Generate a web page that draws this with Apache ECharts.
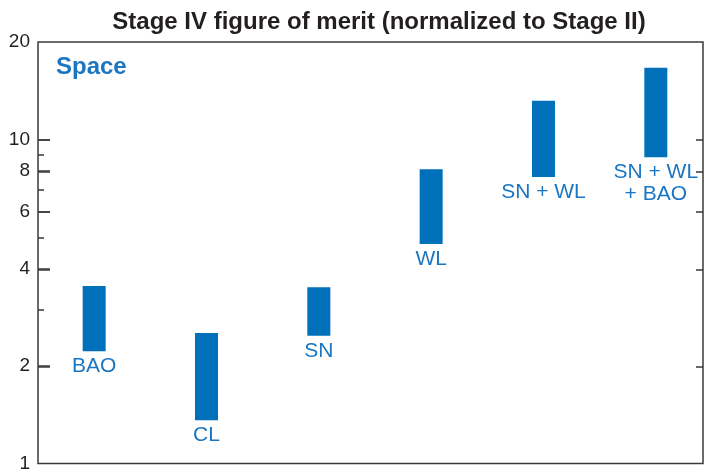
<!DOCTYPE html>
<html>
<head>
<meta charset="utf-8">
<script src="https://cdn.jsdelivr.net/npm/echarts@6/dist/echarts.min.js"></script>
<style>
    html, body { margin: 0; padding: 0; background: #fff; }
    #main { width: 705px; height: 473px; }
</style>
</head>
<body>
<div id="main"></div>
<script>
// ranges (stage IV / stage II)
var categories = ['BAO', 'CL', 'SN', 'WL', 'SN + WL', 'SN + WL\n+ BAO'];
var lowValues = [2.22, 1.36, 2.48, 4.76, 7.66, 8.82];
var highValues = [3.53, 2.53, 3.50, 8.09, 13.18, 16.66];
var tickLabels = [1, 2, 4, 6, 8, 10, 20];
var majorTicks = [2, 4, 6, 8, 10];
var minorTicks = [3, 5, 7, 9];
var yMin = 1, yMax = 20;

(function () {
    var barColor = '#0070bb';
    var textColor = '#1a76c2';
    var axisColor = '#3a3a3a';
    var font = 'Liberation Sans, Arial, sans-serif';

    function lg(v) { return Math.log10(v); }

    var data = categories.map(function (c, i) {
        return [i, lg(lowValues[i]), lg(highValues[i])];
    });

    function renderItem(params, api) {
        var i = api.value(0);
        var lo = api.coord([i, api.value(1)]);
        var hi = api.coord([i, api.value(2)]);
        var w = 23;
        return {
            type: 'group',
            children: [{
                type: 'rect',
                shape: { x: lo[0] - w / 2, y: hi[1], width: w, height: lo[1] - hi[1] },
                style: { fill: barColor }
            }, {
                type: 'text',
                x: lo[0],
                y: lo[1] + 4,
                style: {
                    text: categories[params.dataIndex],
                    fill: textColor,
                    font: '21px ' + font,
                    align: 'center',
                    verticalAlign: 'top',
                    lineHeight: 22
                }
            }]
        };
    }

    // same log10 range on every y axis
    function yAxisWith(gridIndex, pos, ticks, len) {
        return {
            type: 'value',
            gridIndex: gridIndex,
            min: lg(yMin),
            max: lg(yMax),
            position: pos,
            splitLine: { show: false },
            axisLine: { show: false, onZero: false },
            axisTick: {
                show: true, inside: true, length: len,
                lineStyle: { color: axisColor, width: 1.5 },
                customValues: ticks.map(lg)
            },
            axisLabel: { show: false }
        };
    }

    function hiddenX(gridIndex) {
        return {
            type: 'value',
            gridIndex: gridIndex,
            min: -0.5,
            max: 5.42,
            axisLine: { show: false, onZero: false },
            axisTick: { show: false },
            axisLabel: { show: false },
            splitLine: { show: false }
        };
    }

    var mainAxis = yAxisWith(0, 'left', majorTicks, 12);
    mainAxis.axisLabel = {
        show: true,
        margin: 8,
        color: '#231f20',
        fontFamily: font,
        fontSize: 19,
        customValues: tickLabels.map(lg),
        formatter: function (v) { return String(Math.round(Math.pow(10, v))); }
    };

    // long left ticks also drawn as split lines of a 12px wide grid
    var tickStrip = yAxisWith(2, 'left', majorTicks, 0);
    tickStrip.axisTick.show = false;
    tickStrip.splitLine = { show: true, lineStyle: { color: axisColor, width: 1.5 } };

    var gridBox = { left: 38, right: 2, top: 42, bottom: 8 };

    var myChart = echarts.init(document.getElementById('main'));
    myChart.setOption({
        backgroundColor: '#fff',
        animation: false,
        title: {
            text: 'Stage IV figure of merit (normalized to Stage II)',
            left: 374,
            textAlign: 'center',
            top: 5,
            textStyle: { fontFamily: font, fontSize: 24, fontWeight: 'bold', color: '#231f20' }
        },
        graphic: [{
            type: 'text',
            left: 56,
            top: 55,
            style: { text: 'Space', fill: textColor, font: 'bold 24px ' + font }
        }],
        grid: [
            Object.assign({
                show: true,
                borderColor: axisColor,
                borderWidth: 1.5,
                backgroundColor: 'transparent'
            }, gridBox),
            Object.assign({}, gridBox),
            { left: 38, width: 12, top: 42, bottom: 8 }
        ],
        xAxis: [hiddenX(0), hiddenX(1), hiddenX(2)],
        yAxis: [
            mainAxis,
            yAxisWith(1, 'left', minorTicks, 6),
            yAxisWith(1, 'right', majorTicks, 7),
            tickStrip
        ],
        series: [{
            type: 'custom',
            renderItem: renderItem,
            data: data,
            clip: false,
            xAxisIndex: 0,
            yAxisIndex: 0,
            encode: { x: 0, y: [1, 2] }
        }]
    });

    window.onresize = function () {
        myChart.resize();
    };
}());
</script>
</body>
</html>
